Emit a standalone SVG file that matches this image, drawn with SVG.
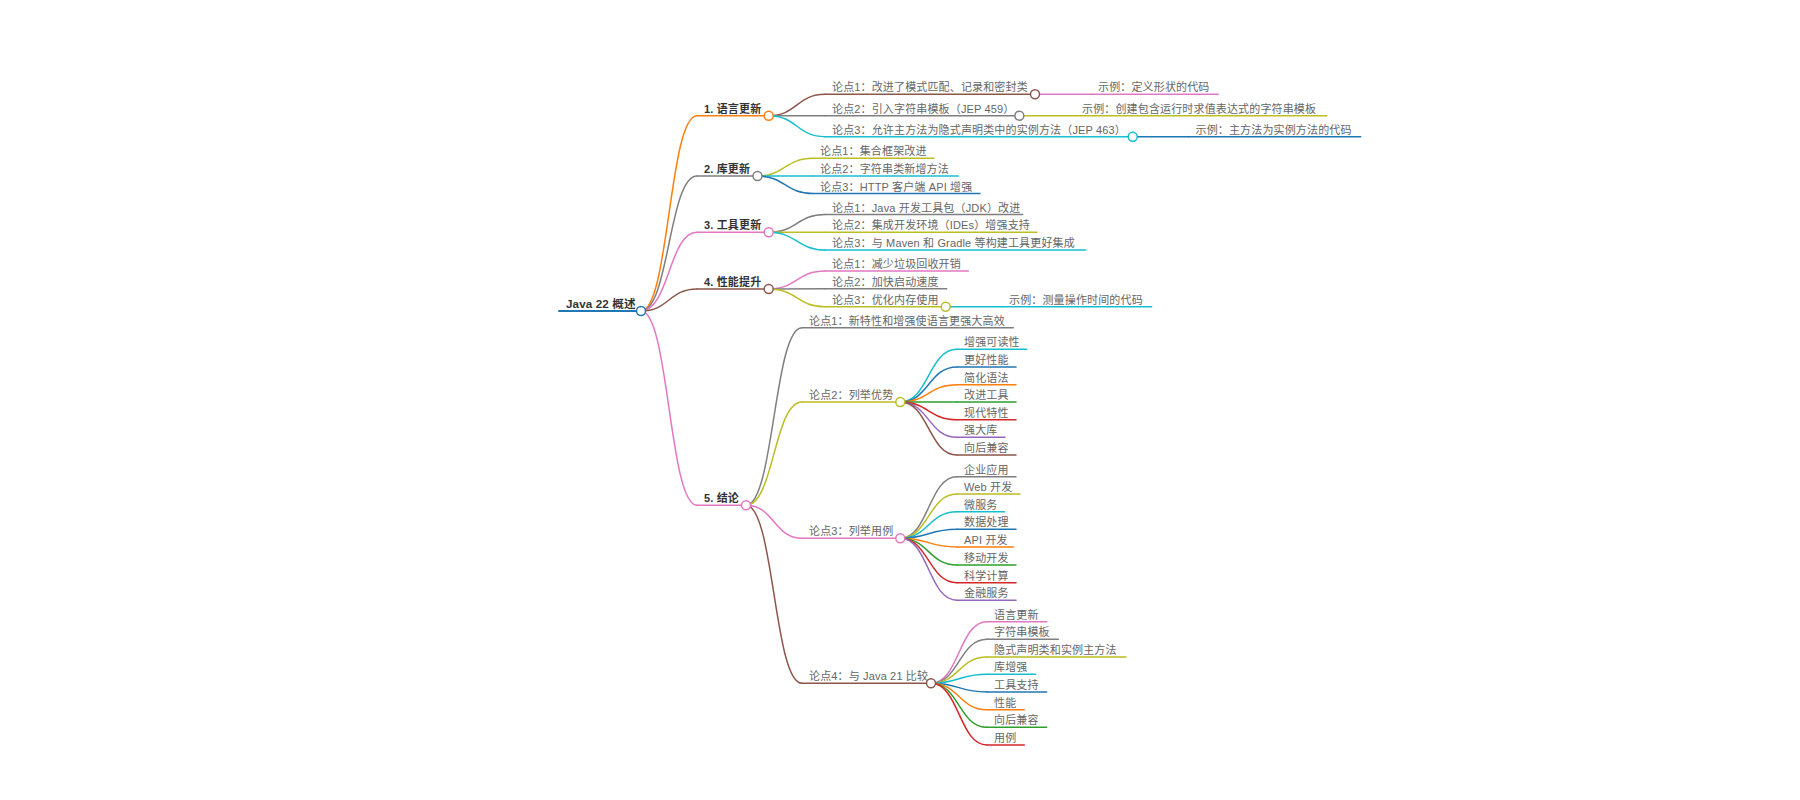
<svg xmlns="http://www.w3.org/2000/svg" width="1800" height="800" viewBox="0 0 1800 800">
<style>
text{font-family:"Liberation Sans","Noto Sans CJK SC",sans-serif;font-size:11px;letter-spacing:0.15px}
.t{fill:#666}
.b{fill:#333;font-weight:bold}
.r{font-size:11.6px}
line,path{fill:none;stroke-width:1.5;stroke-linecap:round}
circle{fill:#fff;stroke-width:1.5}
.cb{stroke:#1f77b4}.co{stroke:#ff7f0e}.cg{stroke:#2ca02c}.cr{stroke:#d62728}.cp{stroke:#9467bd}
.cn{stroke:#8c564b}.ck{stroke:#e377c2}.cy{stroke:#7f7f7f}.cl{stroke:#bcbd22}.cc{stroke:#17becf}
</style>
<rect width="1800" height="800" fill="#fff"/>
<g id="connectors">
<path class="co" d="M641,311 C669,311 669,115.7 697,115.7"/>
<path class="cy" d="M641,311 C669,311 669,176 697,176"/>
<path class="ck" d="M641,311 C669,311 669,232.3 697,232.3"/>
<path class="cn" d="M641,311 C669,311 669,289 697,289"/>
<path class="ck" d="M641,311 C669,311 669,505.3 697,505.3"/>
<path class="cn" d="M768.7,115.7 C797,115.7 797,94.3 825,94.3"/>
<path class="cy" d="M768.7,115.7 L825,115.7"/>
<path class="cc" d="M768.7,115.7 C797,115.7 797,136.7 825,136.7"/>
<path class="cl" d="M757.5,176 C785,176 785,158.3 813,158.3"/>
<path class="cc" d="M757.5,176 L813,176"/>
<path class="cb" d="M757.5,176 C785,176 785,193.5 813,193.5"/>
<path class="cy" d="M768.7,232.3 C797,232.3 797,214.5 825,214.5"/>
<path class="cl" d="M768.7,232.3 L825,232.3"/>
<path class="cc" d="M768.7,232.3 C797,232.3 797,250 825,250"/>
<path class="ck" d="M768.7,289 C797,289 797,271 825,271"/>
<path class="cy" d="M768.7,289 L825,288.7"/>
<path class="cl" d="M768.7,289 C797,289 797,306.7 825,306.7"/>
<path class="cy" d="M746,505.3 C774,505.3 774,327.7 802,327.7"/>
<path class="cl" d="M746,505.3 C774,505.3 774,402 802,402"/>
<path class="ck" d="M746,505.3 C774,505.3 774,538.3 802,538.3"/>
<path class="cn" d="M746,505.3 C774,505.3 774,683.3 802,683.3"/>
<path class="ck" d="M1035,94.3 L1091,94.3"/>
<path class="cl" d="M1019.3,115.7 L1075,115.7"/>
<path class="cb" d="M1132.7,136.7 L1188.5,136.7"/>
<path class="cc" d="M945.7,306.7 L1002,306.7"/>
<path class="cc" d="M900.3,402 C928.6,402 928.6,349.3 957,349.3"/>
<path class="cb" d="M900.3,402 C928.6,402 928.6,367 957,367"/>
<path class="co" d="M900.3,402 C928.6,402 928.6,384.7 957,384.7"/>
<path class="cg" d="M900.3,402 L957,402"/>
<path class="cr" d="M900.3,402 C928.6,402 928.6,419.7 957,419.7"/>
<path class="cp" d="M900.3,402 C928.6,402 928.6,437.3 957,437.3"/>
<path class="cn" d="M900.3,402 C928.6,402 928.6,455 957,455"/>
<path class="cy" d="M900.3,538.3 C928.6,538.3 928.6,476.7 957,476.7"/>
<path class="cl" d="M900.3,538.3 C928.6,538.3 928.6,494 957,494"/>
<path class="cc" d="M900.3,538.3 C928.6,538.3 928.6,511.7 957,511.7"/>
<path class="cb" d="M900.3,538.3 C928.6,538.3 928.6,529.3 957,529.3"/>
<path class="co" d="M900.3,538.3 C928.6,538.3 928.6,547 957,547"/>
<path class="cg" d="M900.3,538.3 C928.6,538.3 928.6,565 957,565"/>
<path class="cr" d="M900.3,538.3 C928.6,538.3 928.6,582.7 957,582.7"/>
<path class="cp" d="M900.3,538.3 C928.6,538.3 928.6,600.3 957,600.3"/>
<path class="ck" d="M931,683.3 C959,683.3 959,621.7 987,621.7"/>
<path class="cy" d="M931,683.3 C959,683.3 959,639.3 987,639.3"/>
<path class="cl" d="M931,683.3 C959,683.3 959,657 987,657"/>
<path class="cc" d="M931,683.3 C959,683.3 959,674.3 987,674.3"/>
<path class="cb" d="M931,683.3 C959,683.3 959,692 987,692"/>
<path class="co" d="M931,683.3 C959,683.3 959,709.7 987,709.7"/>
<path class="cg" d="M931,683.3 C959,683.3 959,727.3 987,727.3"/>
<path class="cr" d="M931,683.3 C959,683.3 959,745 987,745"/>
</g>
<g id="n-root"><line class="cb" x1="559" y1="311" x2="641" y2="311" style="stroke-width:2"/><text class="b r" x="566" y="308">Java 22 概述</text><circle class="cb" cx="641" cy="311" r="4.5"/></g>
<g id="n1"><line class="co" x1="697" y1="115.7" x2="768.7" y2="115.7"/><text class="b" x="704" y="112.7">1. 语言更新</text><circle class="co" cx="768.7" cy="115.7" r="4.5"/></g>
<g id="n2"><line class="cy" x1="697" y1="176" x2="757.5" y2="176"/><text class="b" x="704" y="173">2. 库更新</text><circle class="cy" cx="757.5" cy="176" r="4.5"/></g>
<g id="n3"><line class="ck" x1="697" y1="232.3" x2="768.7" y2="232.3"/><text class="b" x="704" y="229.3">3. 工具更新</text><circle class="ck" cx="768.7" cy="232.3" r="4.5"/></g>
<g id="n4"><line class="cn" x1="697" y1="289" x2="768.7" y2="289"/><text class="b" x="704" y="286">4. 性能提升</text><circle class="cn" cx="768.7" cy="289" r="4.5"/></g>
<g id="n5"><line class="ck" x1="697" y1="505.3" x2="746" y2="505.3"/><text class="b" x="704" y="502.3">5. 结论</text><circle class="ck" cx="746" cy="505.3" r="4.5"/></g>
<g id="n1-1"><line class="cn" x1="825" y1="94.3" x2="1035" y2="94.3"/><text class="t" x="832" y="91.3">论点1：改进了模式匹配、记录和密封类</text><circle class="cn" cx="1035" cy="94.3" r="4.5"/></g>
<g id="n1-2"><line class="cy" x1="825" y1="115.7" x2="1019.3" y2="115.7"/><text class="t" x="832" y="112.7">论点2：引入字符串模板（JEP 459）</text><circle class="cy" cx="1019.3" cy="115.7" r="4.5"/></g>
<g id="n1-3"><line class="cc" x1="825" y1="136.7" x2="1132.7" y2="136.7"/><text class="t" x="832" y="133.7">论点3：允许主方法为隐式声明类中的实例方法（JEP 463）</text><circle class="cc" cx="1132.7" cy="136.7" r="4.5"/></g>
<g id="n1-1-1"><line class="ck" x1="1091" y1="94.3" x2="1218.3" y2="94.3"/><text class="t" x="1098" y="91.3">示例：定义形状的代码</text></g>
<g id="n1-2-1"><line class="cl" x1="1075" y1="115.7" x2="1326.7" y2="115.7"/><text class="t" x="1082" y="112.7">示例：创建包含运行时求值表达式的字符串模板</text></g>
<g id="n1-3-1"><line class="cb" x1="1188.5" y1="136.7" x2="1360.7" y2="136.7"/><text class="t" x="1195.5" y="133.7">示例：主方法为实例方法的代码</text></g>
<g id="n2-1"><line class="cl" x1="813" y1="158.3" x2="934" y2="158.3"/><text class="t" x="820" y="155.3">论点1：集合框架改进</text></g>
<g id="n2-2"><line class="cc" x1="813" y1="176" x2="958.3" y2="176"/><text class="t" x="820" y="173">论点2：字符串类新增方法</text></g>
<g id="n2-3"><line class="cb" x1="813" y1="193.5" x2="980" y2="193.5"/><text class="t" x="820" y="190.5">论点3：HTTP 客户端 API 增强</text></g>
<g id="n3-1"><line class="cy" x1="825" y1="214.5" x2="1022.7" y2="214.5"/><text class="t" x="832" y="211.5">论点1：Java 开发工具包（JDK）改进</text></g>
<g id="n3-2"><line class="cl" x1="825" y1="232.3" x2="1036.7" y2="232.3"/><text class="t" x="832" y="229.3">论点2：集成开发环境（IDEs）增强支持</text></g>
<g id="n3-3"><line class="cc" x1="825" y1="250" x2="1085.7" y2="250"/><text class="t" x="832" y="247">论点3：与 Maven 和 Gradle 等构建工具更好集成</text></g>
<g id="n4-1"><line class="ck" x1="825" y1="271" x2="968.3" y2="271"/><text class="t" x="832" y="268">论点1：减少垃圾回收开销</text></g>
<g id="n4-2"><line class="cy" x1="825" y1="288.7" x2="946.7" y2="288.7"/><text class="t" x="832" y="285.7">论点2：加快启动速度</text></g>
<g id="n4-3"><line class="cl" x1="825" y1="306.7" x2="945.7" y2="306.7"/><text class="t" x="832" y="303.7">论点3：优化内存使用</text><circle class="cl" cx="945.7" cy="306.7" r="4.5"/></g>
<g id="n4-3-1"><line class="cc" x1="1002" y1="306.7" x2="1151.7" y2="306.7"/><text class="t" x="1009" y="303.7">示例：测量操作时间的代码</text></g>
<g id="n5-1"><line class="cy" x1="802" y1="327.7" x2="1013.3" y2="327.7"/><text class="t" x="809" y="324.7">论点1：新特性和增强使语言更强大高效</text></g>
<g id="n5-2"><line class="cl" x1="802" y1="402" x2="900.3" y2="402"/><text class="t" x="809" y="399">论点2：列举优势</text><circle class="cl" cx="900.3" cy="402" r="4.5"/></g>
<g id="n5-3"><line class="ck" x1="802" y1="538.3" x2="900.3" y2="538.3"/><text class="t" x="809" y="535.3">论点3：列举用例</text><circle class="ck" cx="900.3" cy="538.3" r="4.5"/></g>
<g id="n5-4"><line class="cn" x1="802" y1="683.3" x2="931" y2="683.3"/><text class="t" x="809" y="680.3">论点4：与 Java 21 比较</text><circle class="cn" cx="931" cy="683.3" r="4.5"/></g>
<g id="n5-2-1"><line class="cc" x1="957" y1="349.3" x2="1026.7" y2="349.3"/><text class="t" x="964" y="346.3">增强可读性</text></g>
<g id="n5-2-2"><line class="cb" x1="957" y1="367" x2="1016" y2="367"/><text class="t" x="964" y="364">更好性能</text></g>
<g id="n5-2-3"><line class="co" x1="957" y1="384.7" x2="1016" y2="384.7"/><text class="t" x="964" y="381.7">简化语法</text></g>
<g id="n5-2-4"><line class="cg" x1="957" y1="402" x2="1016" y2="402"/><text class="t" x="964" y="399">改进工具</text></g>
<g id="n5-2-5"><line class="cr" x1="957" y1="419.7" x2="1016" y2="419.7"/><text class="t" x="964" y="416.7">现代特性</text></g>
<g id="n5-2-6"><line class="cp" x1="957" y1="437.3" x2="1005" y2="437.3"/><text class="t" x="964" y="434.3">强大库</text></g>
<g id="n5-2-7"><line class="cn" x1="957" y1="455" x2="1016" y2="455"/><text class="t" x="964" y="452">向后兼容</text></g>
<g id="n5-3-1"><line class="cy" x1="957" y1="476.7" x2="1016" y2="476.7"/><text class="t" x="964" y="473.7">企业应用</text></g>
<g id="n5-3-2"><line class="cl" x1="957" y1="494" x2="1020" y2="494"/><text class="t" x="964" y="491">Web 开发</text></g>
<g id="n5-3-3"><line class="cc" x1="957" y1="511.7" x2="1004.3" y2="511.7"/><text class="t" x="964" y="508.7">微服务</text></g>
<g id="n5-3-4"><line class="cb" x1="957" y1="529.3" x2="1016" y2="529.3"/><text class="t" x="964" y="526.3">数据处理</text></g>
<g id="n5-3-5"><line class="co" x1="957" y1="547" x2="1013.3" y2="547"/><text class="t" x="964" y="544">API 开发</text></g>
<g id="n5-3-6"><line class="cg" x1="957" y1="565" x2="1016" y2="565"/><text class="t" x="964" y="562">移动开发</text></g>
<g id="n5-3-7"><line class="cr" x1="957" y1="582.7" x2="1016" y2="582.7"/><text class="t" x="964" y="579.7">科学计算</text></g>
<g id="n5-3-8"><line class="cp" x1="957" y1="600.3" x2="1016" y2="600.3"/><text class="t" x="964" y="597.3">金融服务</text></g>
<g id="n5-4-1"><line class="ck" x1="987" y1="621.7" x2="1046.7" y2="621.7"/><text class="t" x="994" y="618.7">语言更新</text></g>
<g id="n5-4-2"><line class="cy" x1="987" y1="639.3" x2="1058.3" y2="639.3"/><text class="t" x="994" y="636.3">字符串模板</text></g>
<g id="n5-4-3"><line class="cl" x1="987" y1="657" x2="1126" y2="657"/><text class="t" x="994" y="654">隐式声明类和实例主方法</text></g>
<g id="n5-4-4"><line class="cc" x1="987" y1="674.3" x2="1035.7" y2="674.3"/><text class="t" x="994" y="671.3">库增强</text></g>
<g id="n5-4-5"><line class="cb" x1="987" y1="692" x2="1046.7" y2="692"/><text class="t" x="994" y="689">工具支持</text></g>
<g id="n5-4-6"><line class="co" x1="987" y1="709.7" x2="1024.3" y2="709.7"/><text class="t" x="994" y="706.7">性能</text></g>
<g id="n5-4-7"><line class="cg" x1="987" y1="727.3" x2="1046.7" y2="727.3"/><text class="t" x="994" y="724.3">向后兼容</text></g>
<g id="n5-4-8"><line class="cr" x1="987" y1="745" x2="1024.3" y2="745"/><text class="t" x="994" y="742">用例</text></g>
</svg>
